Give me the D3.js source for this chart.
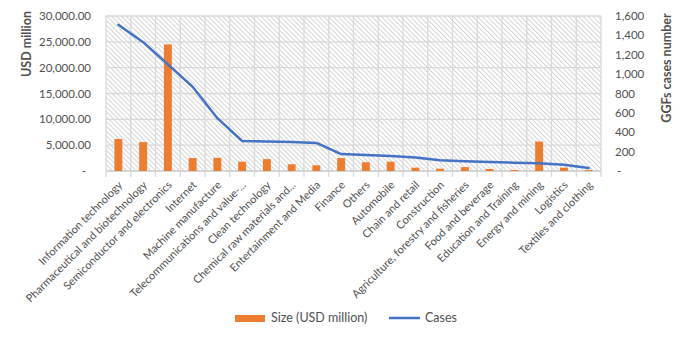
<!DOCTYPE html>
<html>
<head>
<meta charset="utf-8">
<script src="https://cdn.jsdelivr.net/npm/d3@7"></script>
<style>
  body { margin: 0; background: #fff; }
  text { font-family: Lato, "Noto Sans", sans-serif; fill: #505050; }
</style>
</head>
<body>
<div id="chart"></div>
<script>
// categories along the x axis
const categories = ["Information technology", "Pharmaceutical and biotechnology", "Semiconductor and electronics",
    "Internet", "Machine manufacture", "Telecommunications and value-...", "Clean technology",
    "Chemical raw materials and...", "Entertainment and Media", "Finance", "Others", "Automobile",
    "Chain and retail", "Construction", "Agriculture, forestry and fisheries", "Food and beverage",
    "Education and Training", "Energy and mining", "Logistics", "Textiles and clothing"];

// bar series, USD million
const sizes = [6200, 5600, 24500, 2500, 2550, 1800, 2300, 1300, 1100, 2500,
    1700, 1800, 650, 450, 750, 400, 200, 5700, 650, 200];

// line series, number of cases
const cases = [1510, 1330, 1100, 870, 545, 310, 305, 300, 290, 175,
    165, 155, 140, 110, 100, 93, 86, 79, 65, 31];

const leftTicks = [0, 5000, 10000, 15000, 20000, 25000, 30000];
const rightTicks = [0, 200, 400, 600, 800, 1000, 1200, 1400, 1600];

const W = 685, H = 354;
const margin = {top: 16, right: 84, bottom: 183, left: 106};
const width = W - margin.left - margin.right;
const height = H - margin.top - margin.bottom;

const svg = d3.select("#chart").append("svg")
    .attr("width", W)
    .attr("height", H);

// hatch fill for the plot area ("\" direction)
const defs = svg.append("defs");
const pat = defs.append("pattern")
    .attr("id", "hatch")
    .attr("patternUnits", "userSpaceOnUse")
    .attr("width", 3.4)
    .attr("height", 3.4)
    .attr("patternTransform", "rotate(-45)");
pat.append("rect").attr("width", 3.4).attr("height", 3.4).attr("fill", "#fff");
pat.append("line")
    .attr("x1", 0.5).attr("y1", 0).attr("x2", 0.5).attr("y2", 3.4)
    .attr("stroke", "#cfcfcf")
    .attr("stroke-width", 0.9);

const g = svg.append("g")
    .attr("transform", "translate(" + margin.left + "," + margin.top + ")");

const x = d3.scaleBand()
    .domain(categories)
    .range([0, width])
    .paddingInner(0.68)
    .paddingOuter(0.34);

const yLeft = d3.scaleLinear().domain([0, 30000]).range([height, 0]);
const yRight = d3.scaleLinear().domain([0, 1600]).range([height, 0]);

g.append("rect")
    .attr("width", width)
    .attr("height", height)
    .attr("fill", "url(#hatch)");

// horizontal grid
g.append("g")
    .selectAll("line")
    .data(leftTicks)
    .join("line")
    .attr("x1", 0).attr("x2", width)
    .attr("y1", d => yLeft(d)).attr("y2", d => yLeft(d))
    .attr("stroke", "#d9d9d9")
    .attr("stroke-width", 1.3);

// vertical grid on category boundaries
const step = x.step();
const bounds = d3.range(categories.length + 1).map(i => i * step);
g.append("g")
    .selectAll("line")
    .data(bounds)
    .join("line")
    .attr("x1", d => d).attr("x2", d => d)
    .attr("y1", 0).attr("y2", height + 6)
    .attr("stroke", "#d9d9d9")
    .attr("stroke-width", 1.3);

g.append("line")
    .attr("x1", 0).attr("x2", width)
    .attr("y1", height).attr("y2", height)
    .attr("stroke", "#d0d0d0")
    .attr("stroke-width", 1.3);

// bars
g.append("g")
    .selectAll("rect")
    .data(sizes)
    .join("rect")
    .attr("x", (d, i) => x(categories[i]))
    .attr("y", d => yLeft(d))
    .attr("width", x.bandwidth())
    .attr("height", d => height - yLeft(d))
    .attr("fill", "#ed7d31");

// line
const line = d3.line()
    .x((d, i) => x(categories[i]) + x.bandwidth() / 2)
    .y(d => yRight(d));

g.append("path")
    .datum(cases)
    .attr("d", line)
    .attr("fill", "none")
    .attr("stroke", "#4472c4")
    .attr("stroke-width", 2.5)
    .attr("stroke-linejoin", "round")
    .attr("stroke-linecap", "round");

// left axis labels
const fmtLeft = d => d === 0 ? "-" : d3.format(",.2f")(d);
g.append("g")
    .selectAll("text")
    .data(leftTicks)
    .join("text")
    .attr("x", d => d === 0 ? -20 : -15)
    .attr("y", d => yLeft(d))
    .attr("dy", "0.35em")
    .attr("text-anchor", "end")
    .style("font-size", "11.5px")
    .text(fmtLeft);

// right axis labels
const fmtRight = d => d === 0 ? "-" : d3.format(",")(d);
g.append("g")
    .selectAll("text")
    .data(rightTicks)
    .join("text")
    .attr("x", d => d === 0 ? width + 16 : width + 14)
    .attr("y", d => yRight(d))
    .attr("dy", "0.35em")
    .attr("text-anchor", "start")
    .style("font-size", "11.5px")
    .text(fmtRight);

// category labels
g.append("g")
    .selectAll("text")
    .data(categories)
    .join("text")
    .attr("transform", d => "translate(" + (x(d) + x.bandwidth() / 2 + 2) + "," + (height + 12) + ") rotate(-45)")
    .attr("text-anchor", "end")
    .attr("dy", "0.35em")
    .style("font-size", "11px")
    .text(d => d);

// axis titles
svg.append("text")
    .attr("transform", "translate(31,44) rotate(-90)")
    .attr("text-anchor", "middle")
    .style("font-size", "12.5px")
    .style("font-weight", "bold")
    .text("USD million");

svg.append("text")
    .attr("transform", "translate(671,68) rotate(-90)")
    .attr("text-anchor", "middle")
    .style("font-size", "12.5px")
    .style("font-weight", "bold")
    .text("GGFs cases number");

// legend
const legend = svg.append("g").attr("transform", "translate(235,318)");
legend.append("rect")
    .attr("x", 0).attr("y", -3)
    .attr("width", 30).attr("height", 7)
    .attr("fill", "#ed7d31");
legend.append("text")
    .attr("x", 36).attr("y", 0)
    .attr("dy", "0.35em")
    .style("font-size", "12.5px")
    .text("Size (USD million)");
legend.append("line")
    .attr("x1", 154).attr("x2", 185)
    .attr("y1", 0).attr("y2", 0)
    .attr("stroke", "#4472c4")
    .attr("stroke-width", 2.5);
legend.append("text")
    .attr("x", 190).attr("y", 0)
    .attr("dy", "0.35em")
    .style("font-size", "12.5px")
    .text("Cases");
</script>
</body>
</html>
